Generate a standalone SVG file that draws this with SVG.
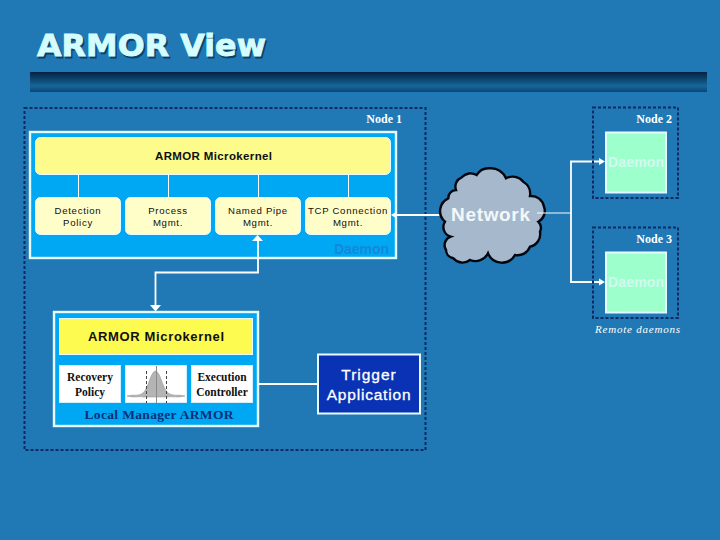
<svg xmlns="http://www.w3.org/2000/svg" width="720" height="540" viewBox="0 0 720 540">
<style>
.sans{font-family:"Liberation Sans",Arial,sans-serif}
.serif{font-family:"Liberation Serif","Times New Roman",serif}
.ttl{font-family:"DejaVu Sans",sans-serif;font-size:31px;font-weight:bold;stroke-width:.9px}
.dash{fill:none;stroke:#0b2a66;stroke-width:2;stroke-dasharray:3 2}
.wire{fill:none;stroke:#fff;stroke-width:1}
.wire2{fill:none;stroke:#fff;stroke-width:1.8}
.panel{fill:#00a8f4;stroke:#e4fbff;stroke-width:2.4}
.kern{fill:#fdfb8c;stroke:#e8fbff;stroke-width:1}
.sub{fill:#fffdc8;stroke:#e8fbff;stroke-width:1}
.green{fill:#9cffcc;stroke:#e4fbff;stroke-width:2}
.white{fill:#fff;stroke:#d0f0ff;stroke-width:1}
.lbl{font-size:9.6px;fill:#101010;text-anchor:middle;letter-spacing:.7px}
.ser{font-size:11.5px;font-weight:bold;fill:#101010;text-anchor:middle}
.node{font-size:12px;font-weight:bold;fill:#fff;text-anchor:end}
.dm{font-size:14px;font-weight:bold;fill:#d2fbee}
.head{fill:#fff}
</style>
<defs>
<linearGradient id="bar" x1="0" y1="0" x2="0" y2="1">
<stop offset="0" stop-color="#03223f"/><stop offset=".7" stop-color="#17669c"/><stop offset="1" stop-color="#0b4474"/>
</linearGradient>
</defs>
<rect width="720" height="540" fill="#2079b4"/>
<g id="title">
<text class="ttl" x="38.500" y="57.500" fill="#0c3f68" stroke="#0c3f68" textLength="229" lengthAdjust="spacingAndGlyphs">ARMOR View</text>
<text class="ttl" x="37" y="56" fill="#d4fdff" stroke="#d4fdff" textLength="229" lengthAdjust="spacingAndGlyphs">ARMOR View</text>
<rect x="30" y="72" width="677" height="20" fill="url(#bar)"/>
</g>
<g id="node1">
<rect class="dash" x="24.500" y="108" width="401" height="342"/>
<text class="node serif" x="402" y="123">Node 1</text>
</g>
<g id="daemon1">
<rect class="panel" x="30" y="132" width="366" height="126"/>
<text class="sans" x="334" y="254" font-size="14" font-weight="bold" fill="#1388d8" textLength="55">Daemon</text>
</g>
<g id="connectors">
<path class="wire" d="M78.500 174V197M168.500 174V197M258.500 174V197M348.500 174V197M84.500 354V365M156.500 354V365M222.500 354V365"/>
<path class="wire2" d="M393 215H450"/>
<path class="wire2" d="M258 240V272.500H155.500V306"/>
<path class="wire2" d="M253 384H317"/>
<path class="wire" d="M537 213H571"/>
<path class="wire2" d="M571 213V161.500H600M571 213V282H600"/>
<path class="head" d="M391 215L396 212V218Z"/>
<path class="head" d="M257.500 235L263 241H252Z"/>
<path class="head" d="M155.500 311.500L150 305H161Z"/>
<path class="head" d="M605 161.500L599 158V165Z"/>
<path class="head" d="M605 282L599 278.500V285.500Z"/>
</g>
<g id="kernel1">
<rect class="kern" x="35.500" y="137.500" width="355" height="37" rx="5"/>
<text class="sans" x="155" y="160" font-size="11.500" font-weight="bold" fill="#101010" textLength="117">ARMOR Microkernel</text>
</g>
<g id="detection">
<rect class="sub" x="35.500" y="197.500" width="85" height="37" rx="5"/>
<text class="sans lbl" x="78" y="214">Detection</text><text class="sans lbl" x="78" y="226">Policy</text>
</g>
<g id="process">
<rect class="sub" x="125.500" y="197.500" width="85" height="37" rx="5"/>
<text class="sans lbl" x="168" y="214">Process</text><text class="sans lbl" x="168" y="226">Mgmt.</text>
</g>
<g id="pipe">
<rect class="sub" x="215.500" y="197.500" width="85" height="37" rx="5"/>
<text class="sans lbl" x="258" y="214">Named Pipe</text><text class="sans lbl" x="258" y="226">Mgmt.</text>
</g>
<g id="tcp">
<rect class="sub" x="305.500" y="197.500" width="85" height="37" rx="5"/>
<text class="sans lbl" x="348" y="214">TCP Connection</text><text class="sans lbl" x="348" y="226">Mgmt.</text>
</g>
<g id="network">
<path d="M456 190A10 10 0 0 1 461.700 177.300A12 12 0 0 1 476.700 175A14 14 0 0 1 490 168.300A16 16 0 0 1 506 178.300A14 14 0 0 1 523.300 181.700A14 14 0 0 1 530 196A13 13 0 0 1 544 206.700A12 12 0 0 1 538.300 221.700A9 9 0 0 1 540 231.700A13 13 0 0 1 530 246.700A13 13 0 0 1 515 255A15 15 0 0 1 488 253.300A14 14 0 0 1 470 260A12 12 0 0 1 453.300 258.300A9 9 0 0 1 446 250A9 9 0 0 1 450.700 236.700A10 10 0 0 1 445 221.700A14 14 0 0 1 448.300 198.300A8 8 0 0 1 456 190Z" fill="#a6b8cc" stroke="#04060f" stroke-width="2.400"/>
<path class="wire" d="M537 213H546"/>
<text class="sans" x="451" y="221" font-size="19" font-weight="bold" fill="#f2f8fa" textLength="79">Network</text>
</g>
<g id="node2">
<rect class="dash" x="593" y="107.500" width="85" height="90.500"/>
<text class="node serif" x="672" y="123">Node 2</text>
<rect class="green" x="606" y="132.500" width="60" height="60"/>
<text class="sans dm" x="608" y="167" textLength="56">Daemon</text>
</g>
<g id="node3">
<rect class="dash" x="593" y="227.500" width="85" height="90.500"/>
<text class="node serif" x="672" y="243">Node 3</text>
<rect class="green" x="606" y="252.500" width="60" height="60"/>
<text class="sans dm" x="608" y="287" textLength="56">Daemon</text>
</g>
<text class="serif" x="595" y="333" font-size="11" font-style="italic" fill="#fff" textLength="85">Remote daemons</text>
<g id="manager">
<rect class="panel" x="54" y="312" width="204" height="114"/>
<text class="serif" x="159" y="419" font-size="13.500" font-weight="bold" fill="#0c2f78" text-anchor="middle" textLength="149">Local Manager ARMOR</text>
</g>
<g id="kernel2">
<rect x="59.500" y="318.500" width="193" height="36" fill="#fdfb50" stroke="#e8fbff"/>
<text class="sans" x="88" y="341" font-size="13" font-weight="bold" fill="#101010" textLength="136">ARMOR Microkernel</text>
</g>
<g id="recovery">
<rect class="white" x="59.500" y="365.500" width="61" height="37"/>
<text class="serif ser" x="90" y="381">Recovery</text><text class="serif ser" x="90" y="396">Policy</text>
</g>
<g id="curve">
<rect class="white" x="125.500" y="365.500" width="61" height="37"/>
<path d="M127 396C134 394 139 397 144 392C149 386 151 371 155.500 371C160 371 162 386 167 392C172 397 178 394 185 396C178 398 172 396 167 397H144C139 396 134 398 127 396Z" fill="#b4b4b4" stroke="#9a9a9a" stroke-width=".6"/>
<path d="M146.500 371V403M166.500 371V403" stroke="#444" stroke-dasharray="3 2" fill="none"/>
<path d="M156.500 366V403" stroke="#8a8a8a" fill="none"/>
</g>
<g id="execution">
<rect class="white" x="191.500" y="365.500" width="61" height="37"/>
<text class="serif ser" x="222" y="381">Execution</text><text class="serif ser" x="222" y="396">Controller</text>
</g>
<g id="trigger">
<rect x="318" y="354.500" width="102" height="59" fill="#0a32b4" stroke="#e8fbff" stroke-width="2"/>
<text class="sans" x="369" y="380" font-size="15.500" fill="#fff" stroke="#fff" stroke-width=".3" text-anchor="middle" letter-spacing="1">Trigger</text>
<text class="sans" x="369" y="400" font-size="15.500" fill="#fff" stroke="#fff" stroke-width=".3" text-anchor="middle" letter-spacing=".8">Application</text>
</g>
</svg>
